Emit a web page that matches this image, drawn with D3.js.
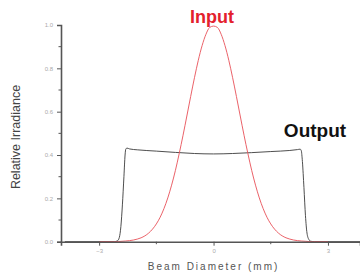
<!DOCTYPE html>
<html><head><meta charset="utf-8">
<script src="https://cdn.jsdelivr.net/npm/d3@7"></script>
<style>html,body{margin:0;padding:0;background:#fff;}svg{display:block;}</style>
</head><body>
<script>
// Input beam (Gaussian) profile
const inputX = [-3.0,-2.6,-2.4,-2.2,-2.0,-1.9,-1.8,-1.7,-1.6,-1.5,-1.4,-1.3,-1.2,-1.1,-1.0,-0.9,-0.8,-0.7,-0.6,-0.5,-0.4,-0.3,-0.2,-0.1,0.0,0.1,0.2,0.3,0.4,0.5,0.6,0.7,0.8,0.9,1.0,1.1,1.2,1.3,1.4,1.5,1.6,1.7,1.8,1.9,2.0,2.2,2.4,2.6,3.0];
const inputY = [0,0,0.002,0.005,0.012,0.018,0.027,0.040,0.058,0.082,0.113,0.153,0.202,0.261,0.329,0.407,0.491,0.580,0.670,0.757,0.837,0.905,0.957,0.989,0.995,0.989,0.957,0.905,0.837,0.757,0.670,0.580,0.491,0.407,0.329,0.261,0.202,0.153,0.113,0.082,0.058,0.040,0.027,0.018,0.012,0.005,0.002,0,0];
// Output beam (flat-top) profile
const outputX = [-3.9,-2.6,-2.52,-2.47,-2.43,-2.39,-2.35,-2.32,-2.3,-2.27,-2.2,-2.0,-1.5,-1.0,-0.5,0.0,0.5,1.0,1.5,2.0,2.2,2.27,2.3,2.33,2.37,2.41,2.45,2.5,2.55,2.65,3.9];
const outputY = [0,0,0.004,0.02,0.07,0.17,0.30,0.40,0.428,0.432,0.428,0.424,0.418,0.412,0.407,0.405,0.407,0.411,0.416,0.421,0.425,0.427,0.42,0.37,0.25,0.12,0.04,0.01,0.002,0,0];
const xMajorTicks = [-3, 0, 3];
const xMinorTicks = [-1.5, 1.5];
const yMajorTicks = [0, 0.2, 0.4, 0.6, 0.8, 1.0];
const yMinorTicks = [0.1, 0.3, 0.5, 0.7, 0.9];
const labels = {x: "Beam Diameter (mm)", y: "Relative Irradiance", input: "Input", output: "Output"};

const W = 360, H = 278;
const svg = d3.select("body").append("svg").attr("width", W).attr("height", H);

const x = d3.scaleLinear().domain([-4, 3.84]).range([61, 360]);
const y = d3.scaleLinear().domain([0, 1]).range([241.7, 25]);

const inputData = inputX.map((v, i) => [v, inputY[i]]);
const outputData = outputX.map((v, i) => [v, outputY[i]]);
const line = d3.line().x(d => x(d[0])).y(d => y(d[1])).curve(d3.curveMonotoneX);

// curves
svg.append("path").datum(outputData).attr("d", line)
  .attr("fill", "none").attr("stroke", "#3a3a3a").attr("stroke-width", 0.9);
svg.append("path").datum(inputData).attr("d", line)
  .attr("fill", "none").attr("stroke", "#e85058").attr("stroke-width", 0.9);

// axes
const axisColor = "#555";
const yAxis = d3.axisLeft(y).tickValues(yMajorTicks).tickFormat(d3.format(".1f")).tickSize(4).tickPadding(4);
const gy = svg.append("g").attr("transform", `translate(${x(-4)},0)`).call(yAxis);
gy.select(".domain").attr("stroke", axisColor).attr("stroke-width", 1.6);
gy.selectAll(".tick line").attr("stroke", axisColor).attr("stroke-width", 1);
gy.selectAll(".tick text").attr("fill", "#aaa").style("font-family", "Arial, 'Liberation Sans', sans-serif").style("font-size", "6px");
gy.selectAll(".minor").data(yMinorTicks).enter().append("line")
  .attr("x1", -2.5).attr("x2", 0).attr("y1", d => y(d)).attr("y2", d => y(d))
  .attr("stroke", axisColor).attr("stroke-width", 1);

const xAxis = d3.axisBottom(x).tickValues(xMajorTicks).tickFormat(d3.format("d")).tickSize(4).tickPadding(3);
const gx = svg.append("g").attr("transform", `translate(0,${y(0)})`).call(xAxis);
gx.select(".domain").attr("stroke", axisColor).attr("stroke-width", 1.6);
gx.selectAll(".tick line").attr("stroke", axisColor).attr("stroke-width", 1);
gx.selectAll(".tick text").attr("fill", "#aaa").style("font-family", "Arial, 'Liberation Sans', sans-serif").style("font-size", "6px");
gx.selectAll(".minor").data(xMinorTicks).enter().append("line")
  .attr("x1", d => x(d)).attr("x2", d => x(d)).attr("y1", 0).attr("y2", 2.5)
  .attr("stroke", axisColor).attr("stroke-width", 1);

// axis titles
svg.append("text").attr("x", x(0)).attr("y", 270).attr("text-anchor", "middle")
  .style("font-family", "Arial, 'Liberation Sans', sans-serif").style("font-size", "10px")
  .style("letter-spacing", "2px").attr("fill", "#555").text(labels.x);
svg.append("text").attr("transform", `translate(19.5,${137}) rotate(-90)`).attr("text-anchor", "middle")
  .style("font-family", "Arial, 'Liberation Sans', sans-serif").style("font-size", "12.5px")
  .attr("fill", "#444").text(labels.y);

// curve labels
svg.append("text").attr("x", 212).attr("y", 22.5).attr("text-anchor", "middle")
  .style("font-family", "Arial, 'Liberation Sans', sans-serif").style("font-size", "18px").style("font-weight", "bold")
  .attr("fill", "#e3202c").text(labels.input);
svg.append("text").attr("x", 315).attr("y", 136.5).attr("text-anchor", "middle")
  .style("font-family", "Arial, 'Liberation Sans', sans-serif").style("font-size", "19px").style("font-weight", "bold")
  .attr("fill", "#111").text(labels.output);
</script>
</body></html>
